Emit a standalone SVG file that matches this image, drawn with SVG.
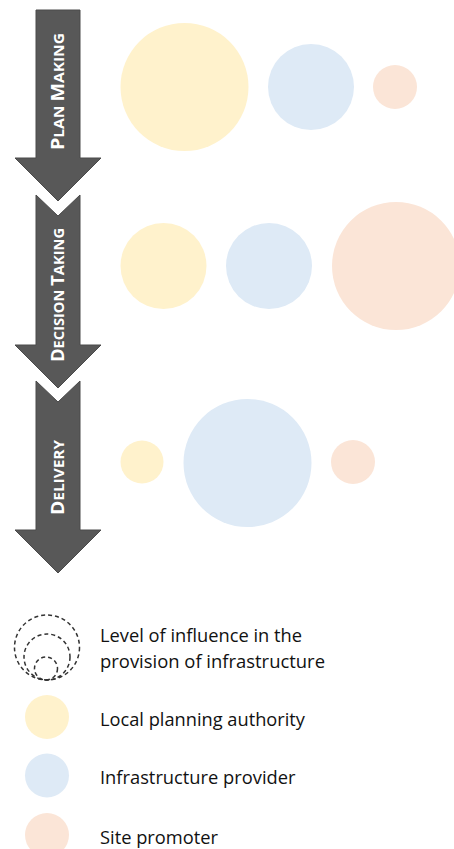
<svg xmlns="http://www.w3.org/2000/svg" width="454" height="849" viewBox="0 0 454 849">
<style>
.arrow{fill:#585858;stroke:#4a4a4a;stroke-width:1}
.atext{font-family:"Open Sans","Liberation Sans",sans-serif;font-weight:bold;fill:#ffffff}
.big{font-size:17px}
.small{font-size:13.5px}
.yel{fill:#FFF2CC}
.blu{fill:#DEEAF6}
.pnk{fill:#FBE5D7}
.dash{fill:none;stroke:#333333;stroke-width:1.5;stroke-dasharray:4 3}
.ltext{font-family:"Open Sans","Liberation Sans",sans-serif;font-size:18px;fill:#111111}
</style>
<rect width="454" height="849" fill="#ffffff"/>
<g id="stage-plan-making">
<path class="arrow" d="M36,10 H80 V158 H101 L58,201 L15,158 H36 Z"/>
<text class="atext" transform="translate(63.5,150) rotate(-90)" textLength="117" lengthAdjust="spacingAndGlyphs"><tspan class="big">P</tspan><tspan class="small">LAN </tspan><tspan class="big">M</tspan><tspan class="small">AKING</tspan></text>
</g>
<g id="stage-decision-taking">
<path class="arrow" d="M36,195 L58,216 L80,195 V345 H101 L58,388 L15,345 H36 Z"/>
<text class="atext" transform="translate(63.5,362) rotate(-90)" textLength="134" lengthAdjust="spacingAndGlyphs"><tspan class="big">D</tspan><tspan class="small">ECISION </tspan><tspan class="big">T</tspan><tspan class="small">AKING</tspan></text>
</g>
<g id="stage-delivery">
<path class="arrow" d="M36,381 L58,402 L80,381 V530 H101 L58,573 L15,530 H36 Z"/>
<text class="atext" transform="translate(63.5,515) rotate(-90)" textLength="75" lengthAdjust="spacingAndGlyphs"><tspan class="big">D</tspan><tspan class="small">ELIVERY</tspan></text>
</g>
<g id="row-plan-making">
<circle class="yel" cx="184.5" cy="87" r="64"/>
<circle class="blu" cx="311" cy="87" r="43"/>
<circle class="pnk" cx="395" cy="87" r="22"/>
</g>
<g id="row-decision-taking">
<circle class="yel" cx="163.5" cy="266" r="43"/>
<circle class="blu" cx="269" cy="266" r="43"/>
<circle class="pnk" cx="396" cy="266" r="64"/>
</g>
<g id="row-delivery">
<circle class="yel" cx="142" cy="462" r="21.5"/>
<circle class="blu" cx="247.5" cy="463" r="64"/>
<circle class="pnk" cx="353" cy="462" r="22"/>
</g>
<g id="legend-influence">
<circle class="dash" cx="47" cy="647.5" r="32.5"/>
<circle class="dash" cx="47" cy="657" r="23"/>
<circle class="dash" cx="46" cy="668.5" r="11.5"/>
<text class="ltext" x="100" y="642" textLength="202" lengthAdjust="spacingAndGlyphs">Level of influence in the</text>
<text class="ltext" x="100" y="668" textLength="225" lengthAdjust="spacingAndGlyphs">provision of infrastructure</text>
</g>
<g id="legend-lpa">
<circle class="yel" cx="47" cy="717" r="22"/>
<text class="ltext" x="100" y="725.5" textLength="205" lengthAdjust="spacingAndGlyphs">Local planning authority</text>
</g>
<g id="legend-provider">
<circle class="blu" cx="47" cy="775.5" r="22"/>
<text class="ltext" x="100" y="784" textLength="195.5" lengthAdjust="spacingAndGlyphs">Infrastructure provider</text>
</g>
<g id="legend-promoter">
<circle class="pnk" cx="47" cy="835" r="22"/>
<text class="ltext" x="100" y="844" textLength="118" lengthAdjust="spacingAndGlyphs">Site promoter</text>
</g>
<g id="connectors"></g>
</svg>
